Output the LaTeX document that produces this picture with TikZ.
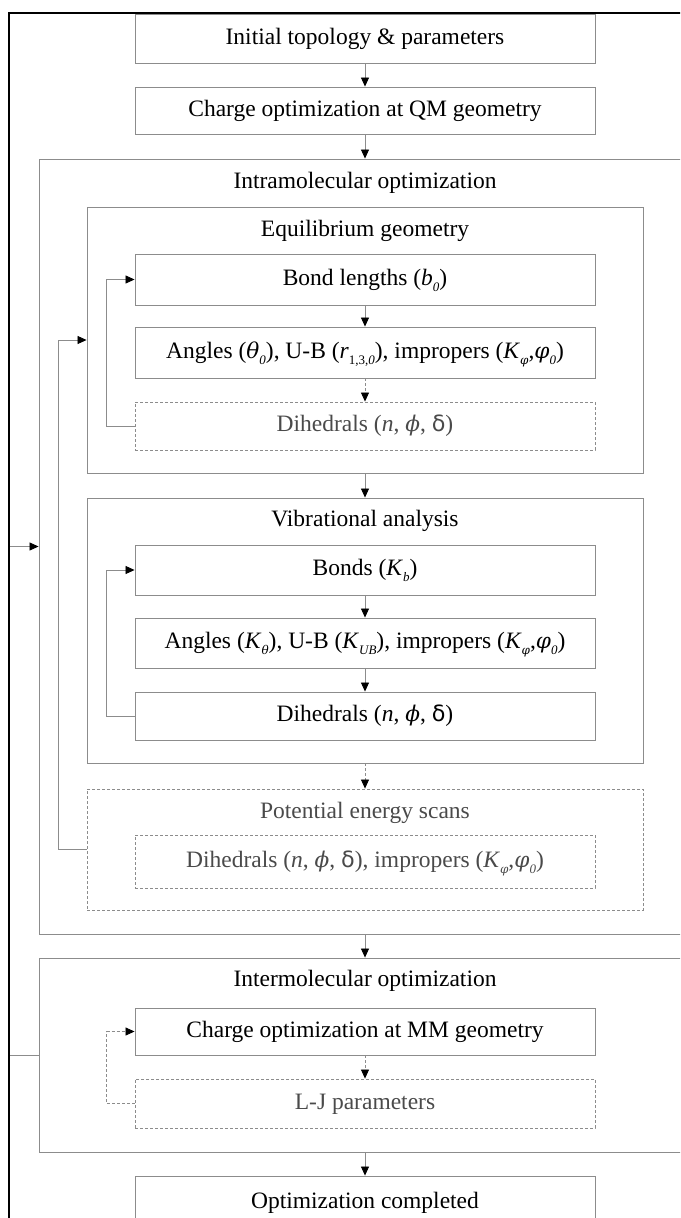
\documentclass[tikz,border=0pt]{standalone}
\usepackage{fontspec}
\setmainfont{Liberation Serif}
\newfontfamily\gk{DejaVu Serif}[Scale=0.92]
\newfontfamily\dsans{DejaVu Sans}[Scale=0.95]
\usetikzlibrary{arrows.meta}
\definecolor{ln}{HTML}{8C8C8C}
\definecolor{dtxt}{HTML}{4A4A4A}
\newcommand{\lsub}[1]{\raisebox{-0.6ex}{\fontsize{13}{13}\selectfont\itshape #1}}
\newcommand{\gi}[1]{{\gk\itshape #1}}
\tikzset{
  box/.style={draw=ln, line width=0.9pt, minimum width=460pt, inner sep=0pt,
    font=\fontsize{23.5}{27}\selectfont, text=black, text height=16pt, text depth=5pt},
  dbox/.style={box, densely dashed, text=dtxt},
  cont/.style={draw=ln, line width=0.9pt, inner sep=0pt},
  dcont/.style={cont, densely dashed},
  ttl/.style={inner sep=0pt, font=\fontsize{23.5}{27}\selectfont, text=black, text height=16pt, text depth=5pt},
  dttl/.style={ttl, text=dtxt},
  conn/.style={draw=ln, line width=0.8pt, -{Triangle[length=9pt,width=8pt,color=black,fill=black]}},
  dconn/.style={conn, densely dashed},
}
\begin{document}
\begin{tikzpicture}[x=1pt,y=-1pt]
\useasboundingbox (0,0) rectangle (680,1218);
\clip (0,0) rectangle (680,1218);
% containers
\node[cont, minimum width=652pt, minimum height=775pt] (intra) at (365,546.5) {};
\node[cont, minimum width=556pt, minimum height=266pt] (eq) at (365,340) {};
\node[cont, minimum width=556pt, minimum height=265pt] (vib) at (365,630.5) {};
\node[dcont, minimum width=556pt, minimum height=121pt] (pes) at (365,849.5) {};
\node[cont, minimum width=652pt, minimum height=194pt] (inter) at (365,1055) {};
% titles
\node[ttl] (intraT) at (365,183) {Intramolecular optimization};
\node[ttl] (eqT) at (365,231) {Equilibrium geometry};
\node[ttl] (vibT) at (365,521) {Vibrational analysis};
\node[dttl] (pesT) at (365,813) {Potential energy scans};
\node[ttl] (interT) at (365,981) {Intermolecular optimization};
% boxes
\node[box, minimum height=49pt] (init) at (365,38.5) {Initial topology \& parameters};
\node[box, minimum height=47pt] (qm) at (365,110.5) {Charge optimization at QM geometry};
\node[box, minimum height=51pt] (bond) at (365,279.5) {Bond lengths (\textit{b}\lsub{0})};
\node[box, minimum height=51pt] (ang) at (365,352.5) {Angles (\gi{θ}\lsub{0}), U-B (\textit{r}\lsub{{\upshape 1,3,}0}), impropers (\textit{K}\lsub{\gk φ},\gi{φ}\lsub{0})};
\node[dbox, minimum height=48pt] (dih1) at (365,426) {Dihedrals (\textit{n}, \gi{ϕ}, {\dsans δ})};
\node[box, minimum height=50pt] (bonds) at (365,570) {Bonds (\textit{K}\lsub{b})};
\node[box, minimum height=50pt] (angk) at (365,643) {Angles (\textit{K}\lsub{\gk θ}), U-B (\textit{K}\lsub{UB}), impropers (\textit{K}\lsub{\gk φ},\gi{φ}\lsub{0})};
\node[box, minimum height=48pt] (dih2) at (365,716) {Dihedrals (\textit{n}, \gi{ϕ}, {\dsans δ})};
\node[dbox, minimum height=53pt] (pesin) at (365,861.5) {Dihedrals (\textit{n}, \gi{ϕ}, {\dsans δ}), impropers (\textit{K}\lsub{\gk φ},\gi{φ}\lsub{0})};
\node[box, minimum height=47pt] (chg) at (365,1031.5) {Charge optimization at MM geometry};
\node[dbox, minimum height=49pt] (lj) at (365,1103.5) {L-J parameters};
\node[box, minimum height=54pt] (opt) at (365,1203) {Optimization completed};
% vertical connectors
\draw[conn] (init) -- (qm);
\draw[conn] (qm) -- (intra.north);
\draw[conn] (bond) -- (ang);
\draw[dconn] (ang) -- (dih1);
\draw[conn] (eq) -- (vib);
\draw[conn] (bonds) -- (angk);
\draw[conn] (angk) -- (dih2);
\draw[dconn] (vib) -- (pes);
\draw[conn] (intra.south) -- (inter.north);
\draw[dconn] (chg) -- (lj);
\draw[conn] (inter.south) -- (opt);
% loops
\draw[conn] (dih1.west) -- ++(-28,0) |- (bond.west);
\draw[conn] (dih2.west) -- ++(-28,0) |- (bonds.west);
\draw[conn] (pes.west) -- ++(-28,0) |- (eq.west);
\draw[dconn] (lj.west) -- ++(-28,0) |- (chg.west);
\draw[conn] (inter.west) -- ++(-29,0) |- (intra.west);
% frame
\draw[line width=2pt] (9,1240) -- (9,13) -- (700,13);
\end{tikzpicture}
\end{document}
